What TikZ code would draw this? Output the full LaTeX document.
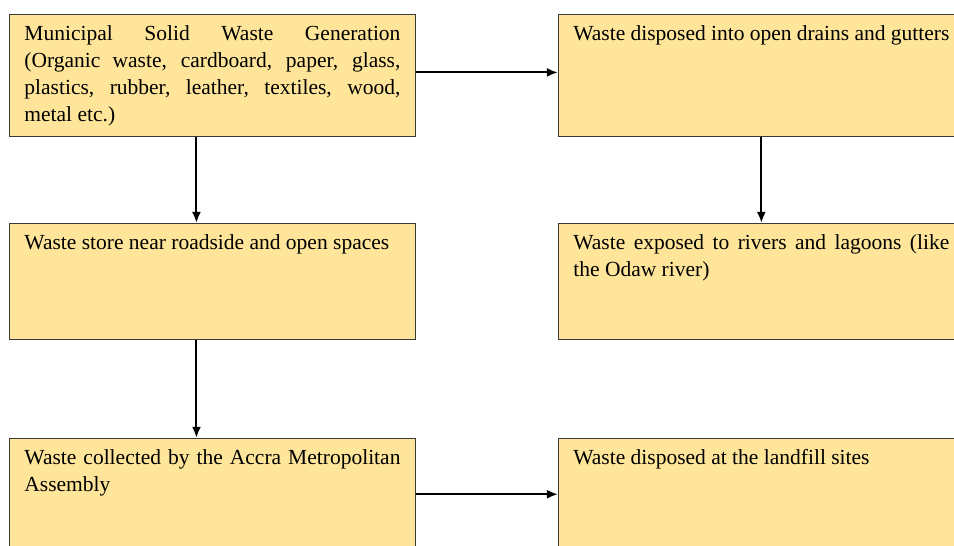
\documentclass[tikz,border=0pt]{standalone}
\usepackage{fontspec}
\setmainfont{Liberation Serif}
\usepackage{xcolor}
\usetikzlibrary{shapes,arrows,arrows.meta,positioning,calc}
\definecolor{boxfill}{HTML}{FFE599}
\definecolor{boxline}{HTML}{3A3A3A}
\hyphenpenalty=10000
\exhyphenpenalty=10000

\begin{document}
\begin{tikzpicture}[x=1pt, y=-1pt, >={Latex[length=11pt,width=9pt]}, line width=2pt,
    wastebox/.style={draw=boxline, line width=0.9pt, fill=boxfill, text width=376pt,
        align=justify, inner xsep=15pt, inner ysep=0pt, text height=26pt,
        font=\fontsize{21.5}{27}\selectfont},
    rowone/.style={wastebox, text depth=96pt},
    rowtwo/.style={wastebox, text depth=90pt},
    rowthree/.style={wastebox, text depth=86pt}]
    \useasboundingbox (0,0) rectangle (954,546);

    \node (generation) [rowone, anchor=north west] at (9,14) {Municipal Solid Waste Generation\linebreak (Organic waste, cardboard, paper, glass,\linebreak plastics, rubber, leather, textiles, wood,\linebreak metal etc.)};
    \node (drains) [rowone, right=142pt of generation] {Waste disposed into open drains and gutters};
    \node (roadside) [rowtwo, below=86pt of generation] {Waste store near roadside and open spaces};
    \node (rivers) [rowtwo, right=142pt of roadside] {Waste exposed to rivers and lagoons (like the Odaw river)};
    \node (collected) [rowthree, below=98pt of roadside] {Waste collected by the Accra Metropolitan Assembly};
    \node (landfill) [rowthree, right=142pt of collected] {Waste disposed at the landfill sites};

    \draw[->] ([yshift=3pt]generation.east) -- ([yshift=3pt]drains.west);
    \draw[->] ([xshift=-16pt]generation.south) -- ([xshift=-16pt]roadside.north);
    \draw[->] (drains) -- (rivers);
    \draw[->] ([xshift=-16pt]roadside.south) -- ([xshift=-16pt]collected.north);
    \draw[->] (collected.east) -- (landfill.west);
\end{tikzpicture}
\end{document}
